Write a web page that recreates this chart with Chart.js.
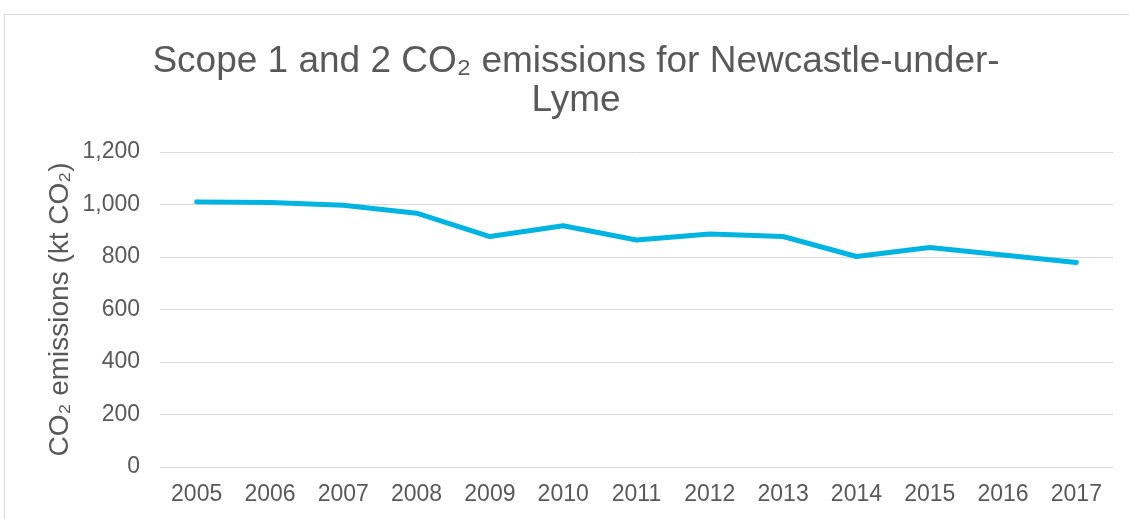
<!DOCTYPE html>
<html>
<head>
<meta charset="utf-8">
<script src="https://cdn.jsdelivr.net/npm/chart.js@4/dist/chart.umd.min.js"></script>
<style>
  html, body { margin: 0; padding: 0; background: #fff; overflow: hidden; width: 1129px; height: 519px; }
  #box { position: absolute; left: 4px; top: 14px; width: 1170px; height: 520px; border-top: 1px solid #d9d9d9; border-left: 1px solid #d9d9d9; }
  canvas { display: block; }
</style>
</head>
<body>
<div id="box"><canvas id="c" width="1150" height="504"></canvas></div>
<script>
const years = ['2005','2006','2007','2008','2009','2010','2011','2012','2013','2014','2015','2016','2017'];
const emissions = [1010, 1008, 997, 967, 878, 919, 865, 888, 878, 802, 836, 808, 779];
const titleLines = ['Scope 1 and 2 CO\u2082 emissions for Newcastle-under-', 'Lyme'];
const yAxisTitle = 'CO\u2082 emissions (kt CO\u2082)';

const textColor = '#595959';
const gridColor = '#d9d9d9';
const font = "'Liberation Sans', Arial, sans-serif";

new Chart(document.getElementById('c'), {
  type: 'line',
  data: {
    labels: years,
    datasets: [{
      data: emissions,
      borderColor: '#00B4E1',
      backgroundColor: '#00B4E1',
      borderWidth: 5,
      pointRadius: 0,
      tension: 0,
      borderCapStyle: 'round',
      borderJoinStyle: 'round'
    }]
  },
  options: {
    responsive: false,
    animation: false,
    layout: { padding: { left: 34, right: 42, top: 27, bottom: 0 } },
    plugins: {
      legend: { display: false },
      tooltip: { enabled: false },
      title: {
        display: true,
        text: titleLines,
        color: textColor,
        font: { family: font, size: 37, weight: 'normal', lineHeight: '39px' },
        padding: { top: 0, bottom: 32 }
      }
    },
    scales: {
      x: {
        offset: true,
        grid: { display: false, drawTicks: false },
        border: { display: false },
        ticks: { color: textColor, font: { family: font, size: 23 }, padding: 14, maxRotation: 0, autoSkip: false },
        afterFit: (s) => { s.height = 52; }
      },
      y: {
        min: 0, max: 1200,
        grid: { color: gridColor, lineWidth: 1, drawTicks: false },
        border: { display: false },
        ticks: {
          stepSize: 200, color: textColor, font: { family: font, size: 23 }, padding: 20,
          callback: (v) => Number(v).toLocaleString('en-US')
        },
        title: {
          display: true, text: yAxisTitle, color: textColor,
          font: { family: font, size: 28, weight: 'normal' },
          padding: { top: 4, bottom: 0 }
        },
        afterFit: (s) => { s.width = 121; }
      }
    }
  }
});
</script>
</body>
</html>
